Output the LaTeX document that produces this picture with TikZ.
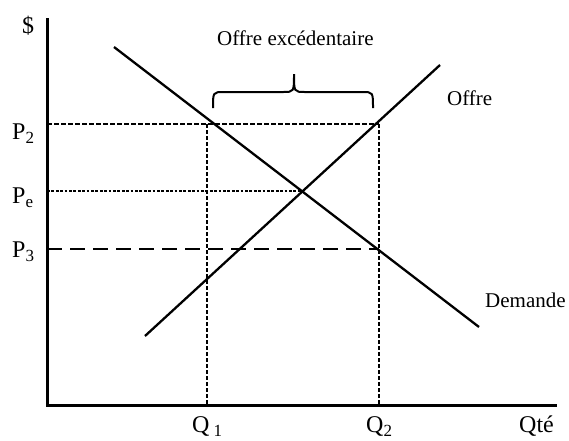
\documentclass[tikz,border=0pt]{standalone}
\usepackage{fontspec}
\setmainfont{Liberation Serif}
\newcommand\lowsub[1]{\raisebox{-0.2em}{\fontsize{17}{17}\selectfont #1}}
\begin{document}
\begin{tikzpicture}[x=1pt,y=-1pt,
  axis/.style={line width=3pt},
  curve/.style={line width=2.3pt},
  guide/.style={line width=1.8pt},
  lbl/.style={inner sep=0pt,anchor=base west,font=\fontsize{24}{24}\selectfont},
  txt/.style={inner sep=0pt,anchor=base west,font=\fontsize{21}{21}\selectfont}]
\useasboundingbox (0,0) rectangle (569,440);
% axes
\coordinate (ytop) at (47,18);
\coordinate (o) at (47,405);
\coordinate (xend) at (557,405);
\draw[axis] (ytop) -- (o) -- (xend);
% key points
\coordinate (p2a) at (47,124);
\coordinate (p2b) at (379,124);
\coordinate (pea) at (47,191);
\coordinate (peb) at (303,191);
\coordinate (p3a) at (47,249);
\coordinate (p3b) at (379,249);
\coordinate (q1t) at (207,124);
\coordinate (q1b) at (207,405);
\coordinate (q2t) at (379,124);
\coordinate (q2b) at (379,405);
% guides
\draw[guide,dash pattern=on 4.5pt off 2.5pt] (p2a) -- (p2b);
\draw[guide,dash pattern=on 2.8pt off 1.6pt] (pea) -- (peb);
\draw[guide,dash pattern=on 15pt off 8pt] (p3a) -- (p3b);
\draw[guide,dash pattern=on 4pt off 2pt] (q1t) -- (q1b);
\draw[guide,dash pattern=on 4pt off 2pt] (q2t) -- (q2b);
% curves
\coordinate (d1) at (114,47);
\coordinate (d2) at (479,327);
\coordinate (s1) at (145,336);
\coordinate (s2) at (440,65);
\draw[curve] (d1) -- (d2);
\draw[curve] (s1) -- (s2);
% brace
\coordinate (bl) at (213,108);
\coordinate (bt) at (294,74);
\coordinate (br) at (373,108);
\draw[line width=2pt] (bl) .. controls (213,92) .. (224,92) -- (283,92)
  .. controls (294,92) .. (bt) .. controls (294,92) .. (305,92) -- (362,92)
  .. controls (373,92) .. (br);
% labels
\node[lbl] (dollar) at (22,33) {\$};
\node[lbl] (lp2) at (12,139) {P\lowsub{2}};
\node[lbl] (lpe) at (12,203) {P\lowsub{e}};
\node[lbl] (lp3) at (12,257) {P\lowsub{3}};
\node[lbl] (lq1) at (192,432) {Q\,\lowsub{1}};
\node[lbl] (lq2) at (366,432) {Q\lowsub{2}};
\node[lbl] (lqte) at (519,432) {Qté};
\node[txt] (lexc) at (217,45) {Offre excédentaire};
\node[txt] (loffre) at (447,105) {Offre};
\node[txt] (ldem) at (485,307) {Demande};
\end{tikzpicture}
\end{document}
